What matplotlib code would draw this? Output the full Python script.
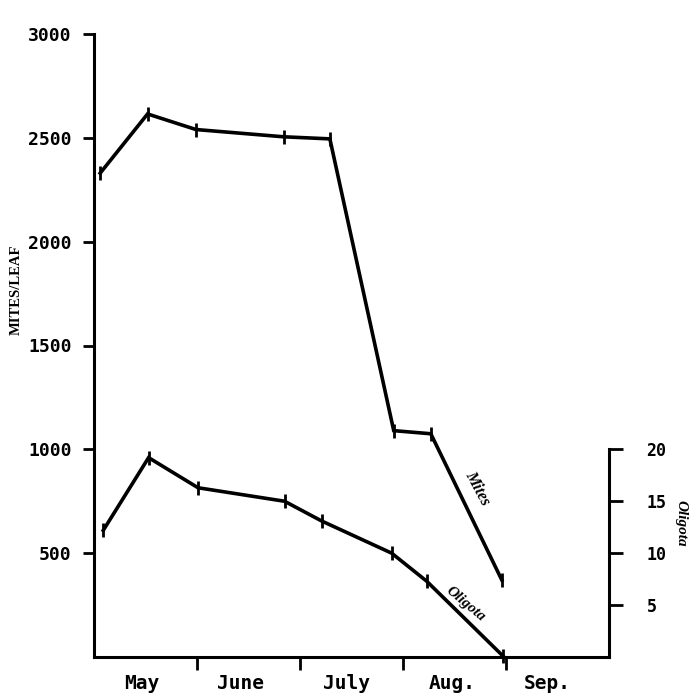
import matplotlib
matplotlib.use("Agg")
import matplotlib.pyplot as plt

# Data (x in months from start of May; left axis mites/leaf; right axis Oligota)
mites_x = [0.06, 0.52, 0.99, 1.84, 2.29, 2.91, 3.27, 3.96]
mites_y = [2330, 2615, 2540, 2505, 2495, 1090, 1075, 370]
olig_x = [0.09, 0.53, 1.01, 1.85, 2.21, 2.89, 3.23, 3.97]
olig_y = [12.2, 19.2, 16.3, 15.0, 13.1, 10.0, 7.3, 0.1]
months = ["May", "June", "July", "Aug.", "Sep."]
month_pos = [0.46, 1.42, 2.45, 3.48, 4.40]
left_ticks = [500, 1000, 1500, 2000, 2500, 3000]
right_ticks = [5, 10, 15, 20]

fig = plt.figure(figsize=(6.93, 6.94), dpi=100)
ax = fig.add_axes([94/693, 1-657/694, (609-94)/693, (657-34)/694])
ax.set_xlim(0, 5)
ax.set_ylim(0, 3000)

mono = "DejaVu Sans Mono"
serif = "Liberation Serif"

ax.plot(mites_x, mites_y, color="black", lw=2.6, marker="|", ms=10, mew=2,
        solid_joinstyle="miter", clip_on=False)

ax2 = ax.twinx()
ax2.set_ylim(0, 60)
ax2.plot(olig_x, olig_y, color="black", lw=2.6, marker="|", ms=10, mew=2,
         solid_joinstyle="miter", clip_on=False)

for a in (ax, ax2):
    a.spines["top"].set_visible(False)
    for s in a.spines.values():
        s.set_linewidth(2.2)

ax.spines["right"].set_visible(False)
ax2.spines["left"].set_visible(False)
ax2.spines["bottom"].set_visible(False)
ax2.spines["right"].set_bounds(0, 20)

ax.set_yticks(left_ticks)
ax.set_yticklabels([str(t) for t in left_ticks], fontfamily=mono, fontsize=13,
                   fontweight="bold")
ax.tick_params(axis="y", direction="out", length=8, width=2, pad=8)

ax.set_xticks([1, 2, 3, 4])
ax.set_xticklabels([])
ax.tick_params(axis="x", which="major", direction="out", length=9, width=2)
ax.set_xticks(month_pos, minor=True)
ax.set_xticklabels(months, minor=True, fontfamily=mono, fontsize=14,
                   fontweight="bold")
ax.tick_params(axis="x", which="minor", length=0, pad=12)

ax2.set_yticks(right_ticks)
ax2.set_yticklabels([str(t) for t in right_ticks], fontfamily=mono, fontsize=12,
                    fontweight="bold")
ax2.tick_params(axis="y", direction="out", length=10, width=2, pad=17)

fig.text(16/693, 1-290/694, "MITES/LEAF", rotation=90, ha="center", va="center",
         fontfamily=serif, fontweight="bold", fontsize=10.5)
fig.text(681/693, 1-523/694, "Oligota", rotation=-90, ha="center", va="center",
         fontfamily=serif, fontstyle="italic", fontweight="bold", fontsize=11)

ax.text(3.72, 810, "Mites", rotation=-62, ha="center", va="center",
        rotation_mode="anchor", fontfamily=serif, fontweight="bold",
        fontstyle="italic", fontsize=11.5)
ax.text(3.61, 255, "Oligota", rotation=-40, ha="center", va="center",
        rotation_mode="anchor", fontfamily=serif, fontstyle="italic",
        fontweight="bold", fontsize=11)

fig.savefig("out.png", dpi=100)
